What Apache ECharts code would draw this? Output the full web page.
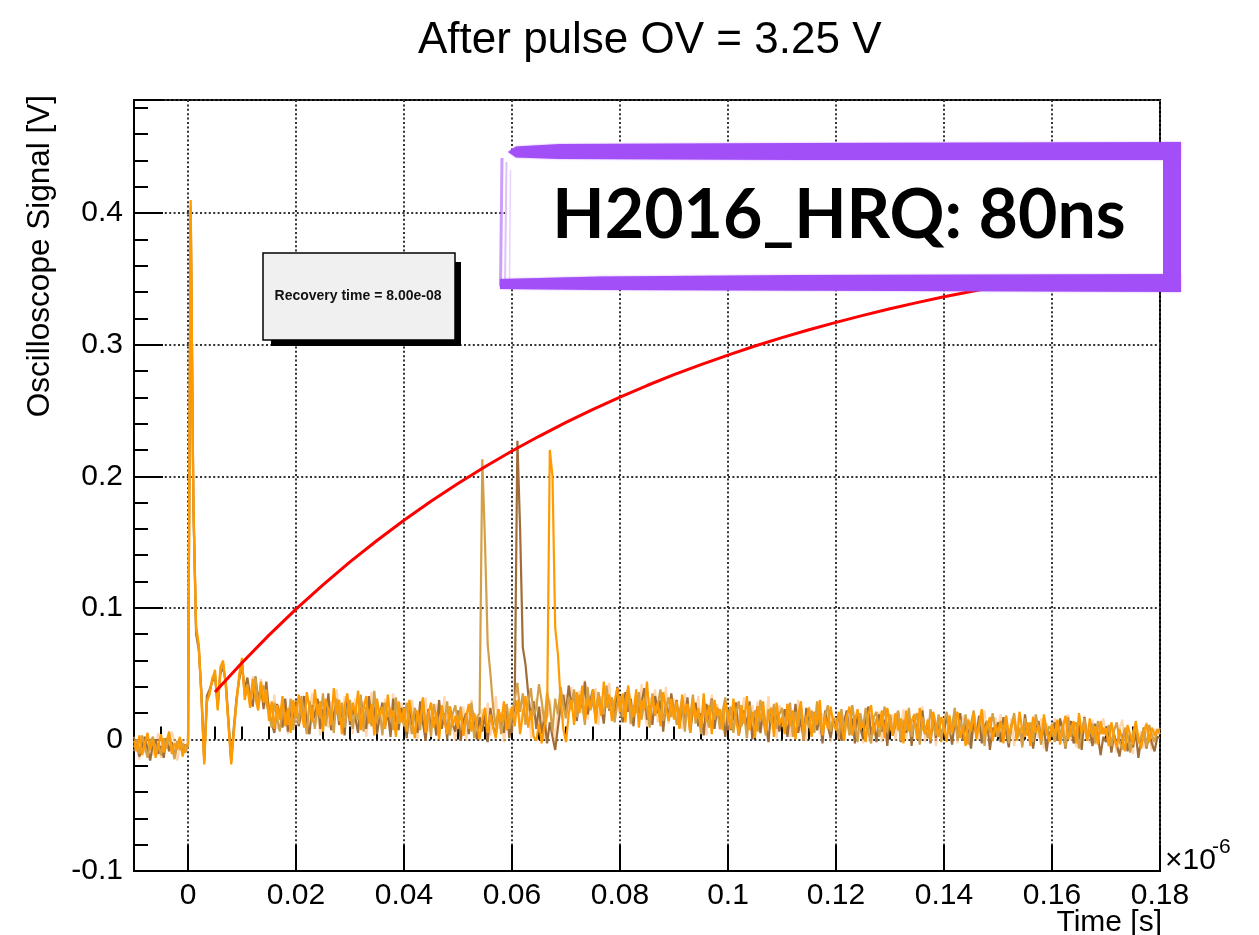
<!DOCTYPE html>
<html>
<head>
<meta charset="utf-8">
<title>After pulse OV = 3.25 V</title>
<script src="https://cdn.jsdelivr.net/npm/echarts@6/dist/echarts.min.js"></script>
<style>
  html, body { margin: 0; padding: 0; background: #fff; }
  #chart { width: 1259px; height: 935px; }
</style>
</head>
<body>
<div id="chart"></div>
<script>
// ---- text ----
const TITLE = 'After pulse OV = 3.25 V';
const X_NAME = 'Time [s]';
const Y_NAME = 'Oscilloscope Signal [V]';
const X_SCALE = '\u00d710';
const X_SCALE_EXP = '-6';
const FIT_LABEL = 'Recovery time = 8.00e-08';
const NOTE = 'H2016_HRQ: 80ns';

// ---- axes (time in units of 1e-6 s) ----
const X_MIN = -0.01, X_MAX = 0.18;
const X_TICKS = [0, 0.02, 0.04, 0.06, 0.08, 0.1, 0.12, 0.14, 0.16, 0.18];
const Y_MIN = -0.1, Y_MAX = 0.486, Y_STEP = 0.1;

// ---- waveforms: one sample every 0.0005 (0.5 ns), first sample at -0.01; values in mV ----
const T0 = -0.01, DT = 0.0005;

const TRACE_ORANGE = [
  -1,-9,3,-12,-4,5,-8,0,-14,-5,4,-10,-2,6,-11,-3,-7,2,-13,-5,
  -3,410,182,86,72,30,-19,28,36,45,53,22,55,60,40,10,-19,5,30,50,
  62,30,40,24,46,31,22,44,28,38,14,29,8,26,15,33,10,24,5,30,
  17,34,21,9,36,24,13,38,18,29,6,31,22,11,39,19,30,4,25,35,
  14,28,19,37,7,23,33,12,27,3,31,18,25,8,34,16,22,2,29,13,
  24,6,30,17,1,22,12,32,5,19,28,9,21,0,26,14,4,25,10,18,
  8,22,3,17,27,6,20,11,0,15,24,5,19,9,1,23,13,29,7,16,
  25,10,30,4,19,33,9,22,2,-1,12,-3,10,18,220,200,85,65,30,8,
  -2,19,30,11,36,20,41,15,31,23,38,12,33,18,44,24,34,14,29,39,
  21,35,13,41,26,17,38,9,30,22,44,15,33,19,28,10,36,24,14,31,
  15,29,8,34,19,27,5,31,16,24,9,35,13,26,4,30,18,23,7,28,
  20,8,31,15,3,26,12,33,7,21,1,25,14,29,6,18,24,2,28,11,
  17,4,27,10,22,0,19,29,6,15,24,2,21,11,30,3,17,8,25,12,
  7,21,11,-1,18,25,3,14,23,7,13,-2,19,26,4,16,9,22,1,24,
  12,3,20,7,16,-3,22,6,14,19,0,24,9,4,15,-1,21,11,2,17,
  9,-2,18,5,13,21,1,10,-5,15,6,20,0,12,23,3,9,17,-1,11,
  6,14,-3,18,4,10,16,-1,21,7,2,13,-5,17,5,11,0,19,7,-2,
  12,3,15,-4,9,18,0,8,14,-3,20,5,11,-1,16,2,10,-4,14,4,
  9,-5,13,2,-6,8,0,-9,11,3,-4,14,1,-7,6,12,-2,9,3,7,
  6
];

const TRACE_GOLD = [
  -6,0,-11,3,-5,-14,-2,2,-9,-3,-12,1,-7,4,-5,-15,-1,-8,-3,-10,
  -5,405,175,84,70,32,-17,30,34,47,50,24,52,58,42,12,-17,8,28,48,
  58,34,42,28,38,47,24,36,41,27,20,9,28,16,6,25,18,11,31,7,
  25,12,33,18,4,29,21,8,27,16,35,10,24,20,5,31,14,28,9,23,
  30,8,22,15,34,6,25,19,10,37,13,23,3,28,17,24,7,32,12,20,
  10,28,15,4,24,18,7,31,12,21,2,27,16,5,22,13,29,3,19,26,
  12,25,3,18,8,28,1,16,20,213,150,72,50,25,10,23,4,18,27,8,
  19,30,43,21,35,11,28,39,18,24,42,29,13,36,25,6,31,19,40,26,
  16,32,23,38,17,34,27,11,40,22,30,15,36,25,19,41,23,32,13,27,
  33,17,29,39,12,26,20,36,15,30,24,9,35,18,27,38,14,23,32,17,
  26,11,20,31,6,27,17,34,12,22,4,28,19,9,30,15,24,8,21,32,
  13,25,5,20,29,10,19,1,26,14,22,6,30,16,3,23,12,27,8,19,
  24,7,16,28,2,21,10,25,-1,18,9,22,5,29,14,4,19,26,6,16,
  14,0,23,8,18,3,26,13,-2,20,9,24,5,-3,17,21,2,12,25,6,
  19,4,12,22,-1,15,7,24,2,13,20,-4,17,8,1,23,11,3,19,-2,
  14,21,4,10,24,-1,15,6,19,-4,12,22,2,9,18,-5,14,5,20,8,
  2,13,7,18,-3,11,20,1,9,-6,16,4,13,-2,19,8,-4,15,3,10,
  7,-2,14,4,11,-6,17,2,9,13,-7,6,16,0,5,12,-3,14,4,9,
  3,11,-5,7,13,-1,-8,9,4,-10,6,12,-3,2,8,-6,11,3,-2,8,
  4
];

const TRACE_BROWN = [
  -9,-2,-13,-5,2,-7,-16,-3,0,-11,-5,-14,1,-9,-2,-12,-6,0,-10,-4,
  -6,402,178,80,68,35,-15,33,38,44,48,26,50,55,44,14,-15,10,32,46,
  56,38,47,33,25,48,29,41,23,44,21,12,5,27,19,9,31,6,23,14,
  29,10,20,33,13,4,26,16,31,8,23,15,35,7,19,28,11,24,3,31,
  11,24,16,5,30,19,8,33,14,25,4,18,28,10,21,2,31,15,7,24,
  18,1,26,11,21,5,29,13,-1,23,9,17,3,30,8,20,0,25,12,6,
  22,-1,14,20,4,26,11,0,17,6,19,-2,24,10,3,21,13,5,25,1,
  14,26,227,160,70,57,35,16,29,8,25,4,17,-3,13,2,-8,9,25,34,
  20,41,26,36,14,32,24,44,19,30,38,16,34,25,12,37,22,31,17,40,
  25,13,36,21,31,10,34,18,28,39,15,26,11,33,20,30,6,27,17,35,
  19,30,9,25,14,32,5,22,28,10,20,3,27,15,31,8,24,12,19,2,
  23,7,18,28,3,15,22,9,29,0,17,25,5,21,11,-2,24,12,19,6,
  14,23,2,19,8,27,5,16,-1,24,11,3,21,7,18,-3,22,10,1,16,
  11,19,-1,14,22,4,16,-3,20,9,1,17,25,3,13,-2,19,6,15,-5,
  18,3,11,21,-2,13,5,19,-5,15,8,0,22,4,13,-3,17,1,12,5,
  6,17,9,-4,14,4,20,-1,12,6,-7,15,3,18,-3,10,14,-8,9,2,
  13,-2,17,5,-6,11,15,1,8,-4,19,3,12,-7,7,14,-1,10,-9,6,
  2,13,-1,16,6,-7,9,14,-3,5,11,-8,17,1,7,-5,12,3,-12,2,
  -2,8,-10,4,-4,-13,1,7,-9,3,-6,6,-14,0,9,-7,4,-3,-9,2,
  1
];

const TRACE_PEACH = [
  2,-6,-15,0,-10,4,-3,-12,-6,5,-14,-4,1,-9,6,-2,-16,-6,0,-8,
  -4,398,176,82,70,33,-16,29,35,46,51,25,53,57,41,13,-16,7,31,47,
  57,36,43,27,48,38,25,46,33,29,27,14,34,8,26,13,30,4,21,28,
  12,28,17,32,6,24,35,11,20,3,30,18,9,29,14,38,22,7,33,16,
  25,4,31,13,21,29,2,19,36,9,26,15,6,31,22,10,35,7,18,28,
  13,23,4,30,12,0,25,15,32,6,21,10,27,2,14,33,5,20,11,-1,
  17,6,25,-1,13,30,5,19,2,23,11,28,3,16,33,8,21,-2,14,24,
  5,20,29,7,24,13,35,1,21,31,8,25,0,17,30,12,-1,22,32,14,
  34,21,40,13,29,37,20,45,15,30,24,39,11,33,22,29,43,17,26,36,
  17,31,22,39,11,27,35,15,42,21,10,32,24,38,13,29,19,40,12,25,
  31,14,24,8,35,21,6,28,17,33,11,26,3,22,34,13,27,7,23,16,
  7,24,15,28,9,20,32,3,19,26,11,29,4,22,13,33,8,21,1,26,
  20,10,27,2,21,12,30,6,18,-1,25,15,8,28,4,20,11,24,-2,18,
  15,6,23,-1,17,10,26,2,20,11,-3,19,7,24,3,15,21,-2,12,23,
  7,19,-1,15,9,23,0,17,6,20,3,13,25,-2,16,7,19,-5,11,17,
  14,2,19,6,23,-3,12,18,4,16,-6,21,8,0,14,22,3,12,-2,17,
  8,19,0,12,5,16,-5,10,21,2,14,6,-3,18,9,1,16,-7,12,4,
  5,16,8,-2,14,4,19,-1,11,-6,13,3,18,7,-3,15,-4,11,6,16,
  5,-4,12,0,-10,8,15,-5,10,2,-11,11,-1,6,-6,13,1,-8,8,3,
  9
];

// ---- recovery fit (V), every 0.005 from 0.005 ----
const FIT_T = [0.005, 0.010, 0.015, 0.020, 0.025, 0.030, 0.035, 0.040, 0.045, 0.050, 0.055, 0.060,
               0.065, 0.070, 0.075, 0.080, 0.085, 0.090, 0.095, 0.100, 0.105, 0.110, 0.115, 0.120,
               0.125, 0.130, 0.135, 0.140, 0.145, 0.150, 0.155, 0.160, 0.165, 0.170, 0.175, 0.180];
const FIT_V = [0.0360, 0.0583, 0.0793, 0.0990, 0.1175, 0.1349, 0.1512, 0.1666, 0.1810, 0.1945, 0.2073, 0.2192,
               0.2304, 0.2410, 0.2509, 0.2602, 0.2690, 0.2772, 0.2849, 0.2921, 0.2990, 0.3054, 0.3114, 0.3170,
               0.3223, 0.3273, 0.3320, 0.3364, 0.3405, 0.3444, 0.3480, 0.3515, 0.3547, 0.3577, 0.3606, 0.3632];

// ---- drawing ----
const FONT = '"Liberation Sans", Arial, Helvetica, sans-serif';
const toPoints = mv => mv.map((v, i) => [+(T0 + i * DT).toFixed(4), v / 1000]);
const fmt = v => String(+(+v).toFixed(3));

const traceSeries = (name, mv, color, width) => ({
  name, type: 'line', xAxisIndex: 0, yAxisIndex: 0,
  data: toPoints(mv), showSymbol: false, symbol: 'none', silent: true,
  lineStyle: { color, width }, itemStyle: { color }, z: 2
});

const PURPLE = '#a34ff8';

const chart = echarts.init(document.getElementById('chart'), null, { renderer: 'canvas' });
chart.setOption({
  animation: false,
  backgroundColor: '#ffffff',
  title: {
    text: TITLE, left: 413, top: 14,
    textStyle: { fontFamily: FONT, fontSize: 44, fontWeight: 'normal', color: '#000' }
  },
  grid: {
    left: 134, top: 100, width: 1026, height: 771,
    show: true, borderColor: '#000', borderWidth: 2, backgroundColor: 'rgba(0,0,0,0)'
  },
  xAxis: [
    {
      type: 'value', min: X_MIN, max: X_MAX, splitNumber: 10,
      axisLine: { show: true, onZero: false, lineStyle: { color: '#000', width: 2 } },
      axisTick: { show: true, inside: true, length: 26, customValues: X_TICKS, lineStyle: { color: '#000', width: 2 } },
      axisLabel: { customValues: X_TICKS, fontFamily: FONT, fontSize: 30, color: '#000', margin: 10, formatter: fmt },
      splitLine: { show: true, lineStyle: { color: '#333', width: 2, type: [2, 2.4] } }
    },
    {
      // minor ticks every 0.005
      type: 'value', min: X_MIN, max: X_MAX, interval: 0.005, position: 'bottom',
      axisLine: { show: false },
      axisTick: { show: true, inside: true, length: 13, lineStyle: { color: '#000', width: 2 } },
      axisLabel: { show: false },
      splitLine: { show: false }
    }
  ],
  yAxis: {
    type: 'value', min: Y_MIN, max: Y_MAX, interval: Y_STEP,
    axisLine: { show: true, onZero: false, lineStyle: { color: '#000', width: 2 } },
    axisTick: { show: true, inside: true, length: 29, lineStyle: { color: '#000', width: 2 } },
    minorTick: { show: true, splitNumber: 5, length: 14, lineStyle: { color: '#000', width: 2 } },
    axisLabel: {
      showMaxLabel: false, fontFamily: FONT, fontSize: 30, color: '#000', margin: 11,
      formatter: v => (v > 0.45 ? '' : fmt(v))
    },
    splitLine: { show: true, lineStyle: { color: '#333', width: 2, type: [2, 2.4] } }
  },
  series: [
    traceSeries('trace 4', TRACE_PEACH, 'rgba(255,186,120,0.6)', 2.2),
    traceSeries('trace 3', TRACE_BROWN, '#a06d38', 2.2),
    traceSeries('trace 2', TRACE_GOLD, '#d3a048', 2.2),
    traceSeries('trace 1', TRACE_ORANGE, '#ff9a00', 2.2),
    {
      name: 'recovery fit', type: 'line', xAxisIndex: 0, yAxisIndex: 0,
      data: FIT_T.map((t, i) => [t, FIT_V[i]]),
      smooth: false, showSymbol: false, symbol: 'none', silent: true,
      lineStyle: { color: '#ff0000', width: 3, join: 'round' }, itemStyle: { color: '#ff0000' }, z: 4
    }
  ],
  graphic: [
    // axis titles
    {
      type: 'text', x: 40, y: 95, rotation: Math.PI / 2, z: 50,
      style: { text: Y_NAME, fontFamily: FONT, fontSize: 31.5, fill: '#000', align: 'right', textAlign: 'right', verticalAlign: 'middle', textVerticalAlign: 'middle' }
    },
    {
      type: 'text', x: 1162, y: 923, z: 50,
      style: { text: X_NAME, fontFamily: FONT, fontSize: 30, fill: '#000', align: 'right', textAlign: 'right', verticalAlign: 'middle', textVerticalAlign: 'middle' }
    },
    {
      type: 'text', x: 1165, y: 861, z: 50,
      style: { text: X_SCALE, fontFamily: FONT, fontSize: 30, fill: '#000', align: 'left', textAlign: 'left', verticalAlign: 'middle', textVerticalAlign: 'middle' }
    },
    {
      type: 'text', x: 1212, y: 847, z: 50,
      style: { text: X_SCALE_EXP, fontFamily: FONT, fontSize: 21, fill: '#000', align: 'left', textAlign: 'left', verticalAlign: 'middle', textVerticalAlign: 'middle' }
    },
    // fit result pave with drop shadow
    { type: 'rect', z: 60, shape: { x: 271, y: 262, width: 190, height: 84 }, style: { fill: '#000' } },
    { type: 'rect', z: 61, shape: { x: 263, y: 253, width: 192, height: 87 }, style: { fill: '#f0f0f0', stroke: '#000', lineWidth: 1.5 } },
    {
      type: 'text', z: 62, x: 358, y: 296,
      style: { text: FIT_LABEL, fontFamily: FONT, fontSize: 14, fontWeight: 'bold', fill: '#111', align: 'center', textAlign: 'center', verticalAlign: 'middle', textVerticalAlign: 'middle' }
    },
    // hand-drawn label frame
    { type: 'rect', z: 70, shape: { x: 505, y: 152, width: 665, height: 128 }, style: { fill: '#ffffff' } },
    {
      type: 'polygon', z: 72,
      shape: { points: [[508, 152], [516, 146.5], [560, 144], [800, 143], [1181, 142], [1181, 160], [800, 160], [560, 159], [516, 157.5]] },
      style: { fill: PURPLE, shadowBlur: 2, shadowColor: 'rgba(163,79,248,0.6)' }
    },
    { type: 'rect', z: 72, shape: { x: 1163, y: 142, width: 18, height: 150 }, style: { fill: PURPLE } },
    {
      type: 'polygon', z: 72,
      shape: { points: [[500, 279], [600, 276.5], [800, 275], [1181, 274], [1181, 292], [900, 291], [600, 290], [500, 289]] },
      style: { fill: PURPLE, shadowBlur: 2, shadowColor: 'rgba(163,79,248,0.6)' }
    },
    { type: 'line', z: 71, shape: { x1: 502, y1: 158, x2: 500.5, y2: 286 }, style: { stroke: PURPLE, lineWidth: 3, opacity: 0.55 } },
    { type: 'line', z: 71, shape: { x1: 506.5, y1: 162, x2: 505, y2: 284 }, style: { stroke: PURPLE, lineWidth: 2, opacity: 0.35 } },
    { type: 'line', z: 71, shape: { x1: 510.5, y1: 170, x2: 509.5, y2: 280 }, style: { stroke: PURPLE, lineWidth: 1.5, opacity: 0.25 } },
    {
      type: 'text', z: 80, x: 839, y: 216,
      style: { text: NOTE, fontFamily: 'Lato, "Open Sans", sans-serif', fontSize: 68, fontWeight: 'bold', fill: '#000', align: 'center', textAlign: 'center', verticalAlign: 'middle', textVerticalAlign: 'middle' }
    }
  ]
});
</script>
</body>
</html>
